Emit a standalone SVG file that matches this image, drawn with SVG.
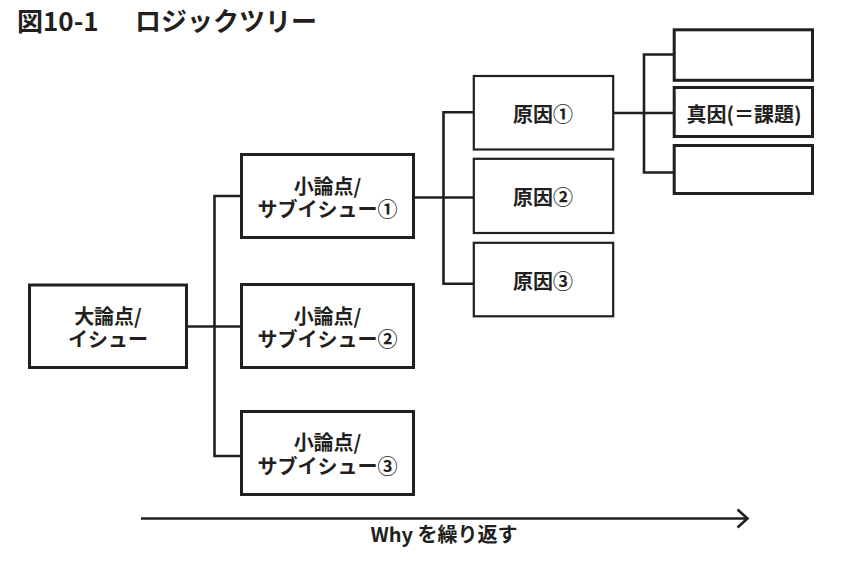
<svg xmlns="http://www.w3.org/2000/svg" width="846" height="562" viewBox="0 0 846 562">
<style>
  .box { fill: #fff; stroke: #231f20; stroke-width: 3; }
  .cbox { fill: #fff; stroke: #231f20; stroke-width: 2.2; }
  .conn { fill: none; stroke: #231f20; stroke-width: 2.6; }
  text { font-family: "Noto Sans CJK JP", "Noto Sans", sans-serif; font-weight: 700; fill: #231f20; }
  .lbl { font-size: 20px; text-anchor: middle; }
  .title { font-size: 26px; }
</style>
<rect width="846" height="562" fill="#fff"/>
<g id="title">
  <text class="title" x="17" y="31">図10-1</text>
  <text class="title" x="135" y="31">ロジックツリー</text>
</g>
<g id="connectors">
  <path class="conn" d="M187,326.5 H241"/>
  <path class="conn" d="M214.5,196 V456 M213.2,196 H241 M213.2,456 H241"/>
  <path class="conn" d="M415,197.5 H474"/>
  <path class="conn" d="M443.5,112.3 V283.7 M442.2,112.3 H474 M442.2,283.7 H474"/>
  <path class="conn" d="M614,113 H674"/>
  <path class="conn" d="M644,54.5 V172.5 M642.7,54.5 H674 M642.7,172.5 H674"/>
</g>
<g id="n-main">
  <rect class="box" x="29.5" y="285" width="157" height="82.5"/>
  <text class="lbl"><tspan x="108" y="323.5">大論点/</tspan><tspan x="108" y="347">イシュー</tspan></text>
</g>
<g id="n-sub1">
  <rect class="box" x="241.5" y="154.5" width="172" height="83"/>
  <text class="lbl"><tspan x="327.5" y="193.5">小論点/</tspan><tspan x="327.5" y="217">サブイシュー①</tspan></text>
</g>
<g id="n-sub2">
  <rect class="box" x="241.5" y="284.5" width="172" height="83"/>
  <text class="lbl"><tspan x="327.5" y="323.5">小論点/</tspan><tspan x="327.5" y="347">サブイシュー②</tspan></text>
</g>
<g id="n-sub3">
  <rect class="box" x="241.5" y="411.5" width="172" height="83"/>
  <text class="lbl"><tspan x="327.5" y="450">小論点/</tspan><tspan x="327.5" y="473.5">サブイシュー③</tspan></text>
</g>
<g id="n-cause1">
  <rect class="cbox" x="473.8" y="76" width="139.4" height="73.5"/>
  <text class="lbl" x="543" y="122">原因①</text>
</g>
<g id="n-cause2">
  <rect class="cbox" x="473.8" y="158.8" width="139.4" height="74.2"/>
  <text class="lbl" x="543" y="204.5">原因②</text>
</g>
<g id="n-cause3">
  <rect class="cbox" x="473.8" y="242.8" width="139.4" height="73.5"/>
  <text class="lbl" x="543" y="288.5">原因③</text>
</g>
<g id="n-root-a">
  <rect class="box" x="674.2" y="29.8" width="138.3" height="50.5"/>
</g>
<g id="n-root-b">
  <rect class="box" x="674.2" y="87.5" width="138.3" height="49"/>
  <text class="lbl" x="744" y="122" font-size="20">真因(＝課題)</text>
</g>
<g id="n-root-c">
  <rect class="box" x="674.2" y="145.5" width="138.3" height="48"/>
</g>
<g id="axis">
  <path class="conn" d="M141,518.5 H746.5"/>
  <path class="conn" d="M737.5,509.5 L747.5,518.5 L737.5,527.5"/>
  <text class="lbl" x="444" y="541.5">Why を繰り返す</text>
</g>
</svg>
